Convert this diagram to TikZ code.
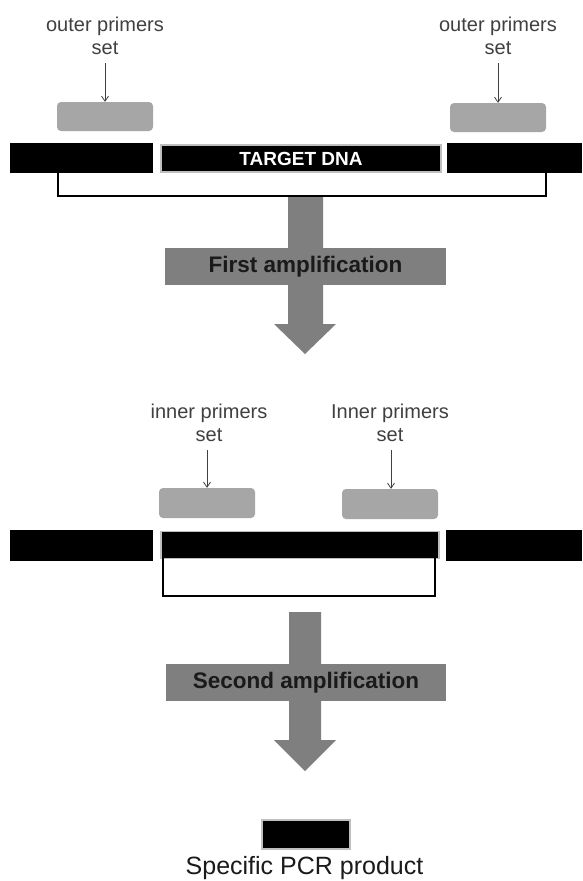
\documentclass[tikz,border=0pt]{standalone}
\usepackage{fontspec}
\setmainfont{Liberation Sans}
\usetikzlibrary{arrows.meta}
\definecolor{primergray}{HTML}{A6A6A6}
\definecolor{arrowgray}{HTML}{7F7F7F}
\definecolor{labelgray}{HTML}{404040}
\definecolor{edgegray}{HTML}{BFBFBF}
\definecolor{darktext}{HTML}{1A1A1A}
\tikzset{
  primer/.style={fill=primergray, rounded corners=4pt, inner sep=0pt, minimum width=96pt, minimum height=29pt},
  dnabar/.style={fill=black, inner sep=0pt, minimum height=30pt},
  targetbar/.style={fill=black, draw=edgegray, line width=1.5pt, inner sep=0pt},
  plabel/.style={align=center, text=labelgray, font=\fontsize{20}{23}\selectfont, inner sep=0pt},
  pointer/.style={draw=labelgray, line width=0.8pt, -{Straight Barb[length=5pt,width=7pt]}},
  bracketline/.style={draw=black, line width=1.8pt},
  bigarrow/.style={fill=arrowgray},
  crossbar/.style={fill=arrowgray, inner sep=0pt, minimum width=281pt, minimum height=37pt, text=darktext, font=\bfseries\fontsize{22.5}{26}\selectfont},
}
\begin{document}
\begin{tikzpicture}[x=1pt,y=-1pt]
\useasboundingbox (0,0) rectangle (582,881);
\fill[white] (0,0) rectangle (582,881);

% ---------- top section ----------
\node[plabel] (ol) at (105,36) {outer primers\\set};
\node[plabel] (or) at (498,36) {outer primers\\set};
\node[primer] (pl) at (105,116.5) {};
\node[primer] (pr) at (498,117.5) {};
\draw[pointer] (ol.south) ++(0,8) coordinate (olt) (olt) -- (pl.north);
\draw[pointer] (or.south) ++(0,8) coordinate (ort) (ort) -- (pr.north);

\node[dnabar, minimum width=143pt] (lb1) at (81.5,158) {};
\node[dnabar, minimum width=135pt] (rb1) at (514.5,158) {};
\node[targetbar, minimum width=280pt, minimum height=27pt, text=white, font=\bfseries\fontsize{19}{22}\selectfont] (tg1) at (301,158.5) {TARGET DNA};

\coordinate (b1a) at (58,173);
\coordinate (b1b) at (58,196);
\coordinate (b1c) at (546,196);
\coordinate (b1d) at (546,173);

% first big arrow
\fill[bigarrow] (288,195) -- (323,195) -- (323,324) -- (336,324) -- (305,354) -- (274,324) -- (288,324) -- cycle;
\draw[bracketline] (b1a) -- (b1b) -- (b1c) -- (b1d);
\node[crossbar] (amp1) at (305.5,266.5) {First amplification};

% ---------- middle section ----------
\node[plabel] (il) at (209,423) {inner primers\\set};
\node[plabel] (ir) at (390,423) {Inner primers\\set};
\node[primer, minimum height=30pt] (ipl) at (207,503) {};
\node[primer, minimum height=30pt] (ipr) at (390,504) {};
\draw[pointer] (il.south) ++(-2,8) coordinate (ilt) (ilt) -- (ilt |- ipl.north);
\draw[pointer] (ir.south) ++(1,8) coordinate (irt) (irt) -- (irt |- ipr.north);

\node[dnabar, minimum width=143pt, minimum height=31pt] (lb2) at (81.5,545) {};
\node[dnabar, minimum width=136pt, minimum height=31pt] (rb2) at (514,545.5) {};
\node[targetbar, minimum width=278pt, minimum height=27pt] (tg2) at (300,545) {};

\coordinate (b2a) at (163,558);
\coordinate (b2b) at (163,596);
\coordinate (b2c) at (435,596);
\coordinate (b2d) at (435,558);
\draw[bracketline] (b2a) -- (b2b) -- (b2c) -- (b2d);

% second big arrow
\fill[bigarrow] (289,612) -- (321,612) -- (321,740) -- (336,740) -- (305,771) -- (274,740) -- (289,740) -- cycle;
\node[crossbar, minimum width=280pt] (amp2) at (306,682.5) {Second amplification};

% ---------- product ----------
\node[targetbar, minimum width=88pt, minimum height=29pt] (prod) at (306,834.5) {};
\node[anchor=base, inner sep=0pt, text=darktext, font=\fontsize{25}{28}\selectfont] (prodl) at (304.5,874.5) {Specific PCR product};
\end{tikzpicture}
\end{document}
